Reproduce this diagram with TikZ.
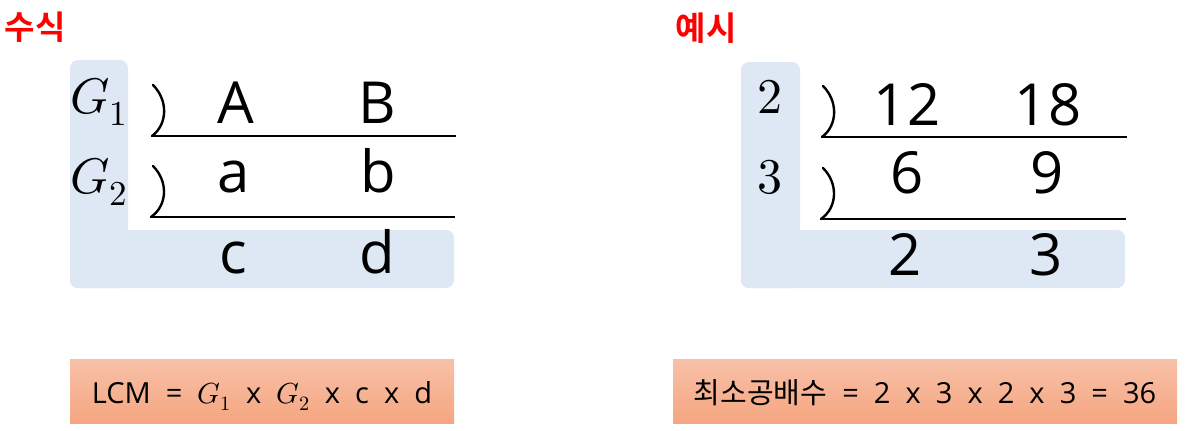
\documentclass[tikz,border=0pt]{standalone}
\usepackage{fontspec}
\usepackage{unicode-math}
\setmathfont{Latin Modern Math}
\setmainfont{Open Sans}
\newfontfamily\kr{Noto Sans CJK KR}
\newfontfamily\krb{Noto Sans CJK KR Bold}
\definecolor{lblue}{RGB}{222,232,244}
\definecolor{otop}{RGB}{248,192,168}
\definecolor{obot}{RGB}{245,166,128}
\definecolor{tred}{RGB}{255,0,0}
\newcommand\widesp{\spaceskip=0.52em\relax}
\begin{document}
\begin{tikzpicture}[x=1pt,y=-1pt,
  big/.style={anchor=base,inner sep=0pt,font=\fontsize{58}{60}\selectfont},
  mth/.style={anchor=base,inner sep=0pt,font=\fontsize{50}{52}\selectfont},
  ttl/.style={anchor=base,inner sep=0pt,text=tred,font=\krb\fontsize{33}{35}\selectfont},
  res/.style={anchor=base,inner sep=0pt,font=\fontsize{29}{31}\selectfont},
  rule/.style={line width=2.6pt},
  bra/.style={line width=2.4pt,line cap=round},
  obox/.style={top color=otop,bottom color=obot,draw=none}]
\useasboundingbox (0,0) rectangle (1200,431);
% ---------- left panel ----------
\node[ttl] (t1) at (35,39) {수식};
\fill[lblue,rounded corners=8pt] (70,60) rectangle (128,288);
\fill[lblue,rounded corners=8pt] (70,230) rectangle (454,288);
\node[mth] (g1) at (99,113) {$G_1$};
\node[mth] (g2) at (99,193) {$G_2$};
\coordinate (b1t) at (153,85);
\coordinate (b1b) at (152,136);
\coordinate (l1e) at (456,136);
\draw[bra] (b1t) .. controls (168,100) and (168,124) .. (b1b);
\draw[rule] (b1b) -- (l1e);
\coordinate (b2t) at (153,166);
\coordinate (b2b) at (151,217);
\coordinate (l2e) at (455,217);
\draw[bra] (b2t) .. controls (168,181) and (168,205) .. (b2b);
\draw[rule] (b2b) -- (l2e);
\node[big] (A) at (236,123) {A};
\node[big] (B) at (377,123) {B};
\node[big] (a) at (234,192) {a};
\node[big] (b) at (378,192) {b};
\node[big] (c) at (233,273) {c};
\node[big] (d) at (377,273) {d};
\node[obox,minimum width=384pt,minimum height=64pt,anchor=north west,inner sep=0pt] (lb) at (70,359) {};
\node[res] (lt) at (262,403) {\widesp LCM = $G_1$ x $G_2$ x c x d};
% ---------- right panel ----------
\node[ttl] (t2) at (706,40) {예시};
\fill[lblue,rounded corners=8pt] (741,62) rectangle (800,288);
\fill[lblue,rounded corners=8pt] (741,230) rectangle (1125,288);
\node[mth] (n2) at (770,113) {$2$};
\node[mth] (n3) at (770,193) {$3$};
\coordinate (c1t) at (823,86);
\coordinate (c1b) at (822,137);
\coordinate (m1e) at (1127,137);
\draw[bra] (c1t) .. controls (838,101) and (838,125) .. (c1b);
\draw[rule] (c1b) -- (m1e);
\coordinate (c2t) at (823,168);
\coordinate (c2b) at (821,219);
\coordinate (m2e) at (1126,219);
\draw[bra] (c2t) .. controls (838,183) and (838,207) .. (c2b);
\draw[rule] (c2b) -- (m2e);
\node[big] (x12) at (907,125) {12};
\node[big] (x18) at (1048,125) {18};
\node[big] (x6) at (907,193) {6};
\node[big] (x9) at (1047,193) {9};
\node[big] (y2) at (905,275) {2};
\node[big] (y3) at (1046,275) {3};
\node[obox,minimum width=504pt,minimum height=64pt,anchor=north west,inner sep=0pt] (rb) at (673,359) {};
\node[res] (rt) at (925,403) {\widesp{\kr 최소공배수} = 2 x 3 x 2 x 3 = 36};
\end{tikzpicture}
\end{document}
